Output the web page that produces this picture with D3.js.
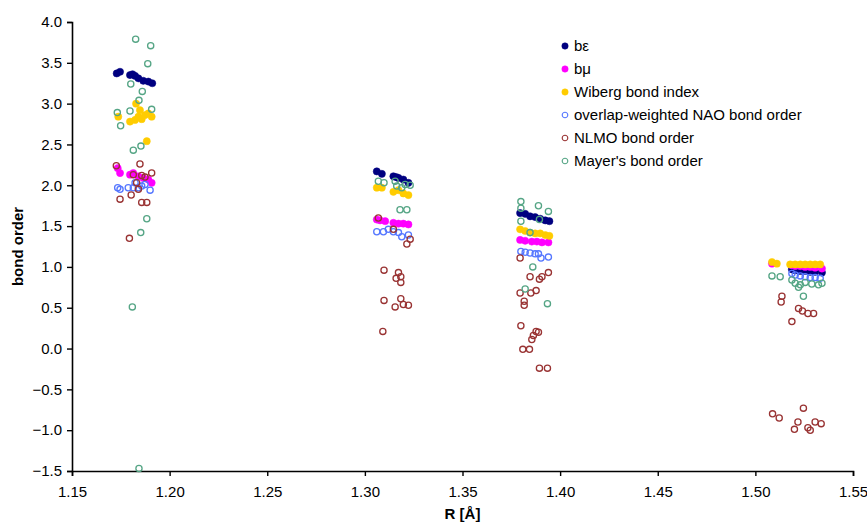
<!DOCTYPE html>
<html>
<head>
<meta charset="utf-8">
<script src="https://cdn.jsdelivr.net/npm/d3@7"></script>
<style>
  body { margin: 0; background: #fff; }
  text { font-family: "Liberation Sans", Arial, sans-serif; }
</style>
</head>
<body>
<div id="chart"></div>
<script>
// [R, bond order] pairs
let beData = [
    [1.1729, 3.37], [1.1746, 3.39], [1.1797, 3.35], [1.1810, 3.36], [1.1823, 3.34], [1.1840, 3.31], [1.1865, 3.28], [1.1891, 3.27], [1.1911, 3.25],
    [1.3061, 2.17], [1.3087, 2.14], [1.3146, 2.11], [1.3160, 2.10], [1.3172, 2.09], [1.3197, 2.07], [1.3223, 2.03],
    [1.3795, 1.66], [1.3821, 1.65], [1.3846, 1.62], [1.3872, 1.61], [1.3898, 1.59], [1.3924, 1.57], [1.3945, 1.56],
    [1.5187, 0.97], [1.5204, 0.96], [1.5230, 0.95], [1.5255, 0.95], [1.5281, 0.94], [1.5306, 0.94], [1.5341, 0.93]
];
let bmuData = [
    [1.1734, 2.21], [1.1746, 2.15], [1.1797, 2.13], [1.1814, 2.15], [1.1840, 2.11], [1.1865, 2.09], [1.1891, 2.07], [1.1908, 2.03],
    [1.3061, 1.58], [1.3078, 1.57], [1.3104, 1.56], [1.3146, 1.54], [1.3172, 1.53], [1.3197, 1.53], [1.3223, 1.52],
    [1.3795, 1.33], [1.3821, 1.32], [1.3855, 1.31], [1.3881, 1.31], [1.3907, 1.30], [1.3940, 1.30],
    [1.5085, 1.04], [1.5187, 1.02], [1.5204, 1.01], [1.5230, 1.01], [1.5255, 1.00], [1.5281, 1.00], [1.5306, 0.99], [1.5341, 0.98]
];
let wibergData = [
    [1.1737, 2.84], [1.1797, 2.78], [1.1823, 2.80], [1.1840, 2.84], [1.1857, 2.81], [1.1874, 2.86], [1.1891, 2.88], [1.1908, 2.84], [1.1848, 2.92], [1.1828, 3.00], [1.1883, 2.54],
    [1.3061, 1.97], [1.3087, 1.97], [1.3146, 1.92], [1.3172, 1.94], [1.3197, 1.90], [1.3223, 1.88],
    [1.3795, 1.46], [1.3821, 1.44], [1.3846, 1.42], [1.3872, 1.41], [1.3898, 1.41], [1.3924, 1.39], [1.3945, 1.38],
    [1.5085, 1.06], [1.5110, 1.04], [1.5178, 1.03], [1.5204, 1.03], [1.5230, 1.03], [1.5255, 1.03], [1.5281, 1.03], [1.5306, 1.03], [1.5332, 1.03]
];
let naoData = [
    [1.1734, 1.97], [1.1746, 1.95], [1.1788, 1.97], [1.1814, 1.97], [1.1823, 2.03], [1.1840, 1.97], [1.1857, 1.99], [1.1874, 2.01], [1.1900, 1.94],
    [1.3061, 1.43], [1.3095, 1.43], [1.3120, 1.46], [1.3146, 1.43], [1.3172, 1.42], [1.3189, 1.37], [1.3223, 1.39],
    [1.3799, 1.19], [1.3821, 1.18], [1.3846, 1.17], [1.3872, 1.16], [1.3889, 1.16], [1.3902, 1.11], [1.3940, 1.12],
    [1.5187, 0.92], [1.5204, 0.90], [1.5230, 0.89], [1.5255, 0.88], [1.5281, 0.87], [1.5306, 0.87], [1.5332, 0.86]
];
let nlmoData = [
    [1.1727, 2.24], [1.1848, 2.26], [1.1908, 2.15], [1.1814, 2.13], [1.1857, 2.12], [1.1874, 2.10], [1.1831, 2.03], [1.1840, 1.95], [1.1803, 1.88], [1.1746, 1.83], [1.1857, 1.79], [1.1883, 1.79], [1.1794, 1.35],
    [1.3069, 1.60], [1.3146, 1.46], [1.3232, 1.34], [1.3215, 1.28], [1.3098, 0.96], [1.3172, 0.93], [1.3160, 0.86], [1.3184, 0.88], [1.3184, 0.81], [1.3098, 0.59], [1.3184, 0.61], [1.3155, 0.51], [1.3197, 0.54], [1.3223, 0.53], [1.3092, 0.21],
    [1.3795, 1.11], [1.3846, 0.88], [1.3894, 0.85], [1.3907, 0.88], [1.3940, 0.93], [1.3877, 0.71], [1.3795, 0.68], [1.3850, 0.68], [1.3816, 0.58], [1.3816, 0.53], [1.3799, 0.28], [1.3877, 0.21], [1.3863, 0.16], [1.3889, 0.20], [1.3855, 0.11], [1.3809, -0.01], [1.3843, -0.01], [1.3894, -0.24], [1.3935, -0.24],
    [1.5136, 0.64], [1.5132, 0.57], [1.5221, 0.49], [1.5241, 0.46], [1.5269, 0.43], [1.5298, 0.43], [1.5187, 0.33], [1.5088, -0.80], [1.5122, -0.85], [1.5246, -0.73], [1.5218, -0.90], [1.5200, -0.99], [1.5269, -0.97], [1.5281, -1.00], [1.5306, -0.90], [1.5337, -0.92]
];
let mayerData = [
    [1.1826, 3.79], [1.1903, 3.71], [1.1888, 3.49], [1.1801, 3.24], [1.1860, 3.15], [1.1843, 3.04], [1.1732, 2.89], [1.1797, 2.91], [1.1908, 2.93], [1.1749, 2.73], [1.1814, 2.43], [1.1853, 2.48], [1.1883, 1.59], [1.1852, 1.42], [1.1809, 0.51], [1.1843, -1.47],
    [1.3069, 2.05], [1.3098, 2.03], [1.3155, 2.05], [1.3163, 1.99], [1.3189, 1.97], [1.3206, 2.01], [1.3232, 2.00], [1.3180, 1.70], [1.3215, 1.70],
    [1.3799, 1.80], [1.3799, 1.72], [1.3889, 1.75], [1.3940, 1.68], [1.3799, 1.56], [1.3846, 1.42], [1.3894, 1.58], [1.3860, 1.00], [1.3821, 0.73], [1.3935, 0.55],
    [1.5085, 0.89], [1.5127, 0.88], [1.5187, 0.84], [1.5204, 0.80], [1.5230, 0.78], [1.5255, 0.81], [1.5289, 0.79], [1.5323, 0.78], [1.5221, 0.75], [1.5246, 0.64], [1.5341, 0.80]
];

let seriesNames = ["b\u03b5", "b\u03bc", "Wiberg bond index", "overlap-weighted NAO bond order", "NLMO bond order", "Mayer's bond order"];
let seriesData = [beData, bmuData, wibergData, naoData, nlmoData, mayerData];
let seriesColors = ["#000080", "#ff00ff", "#ffcc00", "#5577ff", "#993333", "#55a585"];
let seriesFilled = [true, true, true, false, false, false];

let xTicks = [1.15, 1.20, 1.25, 1.30, 1.35, 1.40, 1.45, 1.50, 1.55];
let yTicks = [-1.5, -1.0, -0.5, 0.0, 0.5, 1.0, 1.5, 2.0, 2.5, 3.0, 3.5, 4.0];

let width = 867;
let height = 529;
let margin = { left: 72, right: 14, top: 22, bottom: 58 };

let svg = d3.select("#chart")
    .append("svg")
    .attr("width", width)
    .attr("height", height);

let xScale = d3.scaleLinear()
    .domain([1.15, 1.55])
    .range([margin.left, width - margin.right]);

let yScale = d3.scaleLinear()
    .domain([-1.5, 4.0])
    .range([height - margin.bottom, margin.top]);

// x-axis
let xAxis = d3.axisBottom(xScale)
    .tickValues(xTicks)
    .tickFormat(d3.format(".2f"))
    .tickSizeOuter(0)
    .tickSize(5)
    .tickPadding(10);

let gx = svg.append("g")
    .attr("transform", "translate(0," + (height - margin.bottom) + ")")
    .call(xAxis);

// y-axis
let yAxis = d3.axisLeft(yScale)
    .tickValues(yTicks)
    .tickFormat(d3.format(".1f"))
    .tickSizeOuter(0)
    .tickSize(5)
    .tickPadding(5);

let gy = svg.append("g")
    .attr("transform", "translate(" + margin.left + ",0)")
    .call(yAxis);

[gx, gy].forEach(g => {
    g.select(".domain").attr("stroke", "#000").attr("stroke-width", 1.6);
    g.selectAll(".tick line").attr("stroke", "#000").attr("stroke-width", 1.4);
    g.selectAll(".tick text")
        .attr("fill", "#000")
        .style("font-size", "15px")
        .style("font-family", "'Liberation Sans', Arial, sans-serif");
});

// axis titles
svg.append("text")
    .attr("x", (margin.left + width - margin.right) / 2)
    .attr("y", 519)
    .attr("text-anchor", "middle")
    .style("font-size", "15px")
    .style("font-weight", "bold")
    .text("R [\u00c5]");

svg.append("text")
    .attr("text-anchor", "middle")
    .attr("transform", "translate(23," + ((margin.top + height - margin.bottom) / 2) + ") rotate(-90)")
    .style("font-size", "15px")
    .style("font-weight", "bold")
    .text("bond order");

// points
seriesData.forEach((data, i) => {
    svg.append("g")
        .selectAll("circle")
        .data(data)
        .enter()
        .append("circle")
        .attr("cx", (d) => xScale(d[0]))
        .attr("cy", (d) => yScale(d[1]))
        .attr("r", seriesFilled[i] ? 3.6 : 3.1)
        .attr("fill", seriesFilled[i] ? seriesColors[i] : "none")
        .attr("stroke", seriesColors[i])
        .attr("stroke-width", seriesFilled[i] ? 0.5 : 1.3);
});

// legend
let legend = svg.append("g")
    .attr("transform", "translate(565,46)");

seriesNames.forEach((name, i) => {
    let row = legend.append("g")
        .attr("transform", "translate(0," + (i * 23) + ")");
    row.append("circle")
        .attr("cx", 0)
        .attr("cy", 0)
        .attr("r", seriesFilled[i] ? 3.2 : 2.8)
        .attr("fill", seriesFilled[i] ? seriesColors[i] : "none")
        .attr("stroke", seriesColors[i])
        .attr("stroke-width", seriesFilled[i] ? 0.5 : 1.1);
    row.append("text")
        .attr("x", 9)
        .attr("y", 5)
        .style("font-size", "15px")
        .text(name);
});
</script>
</body>
</html>
